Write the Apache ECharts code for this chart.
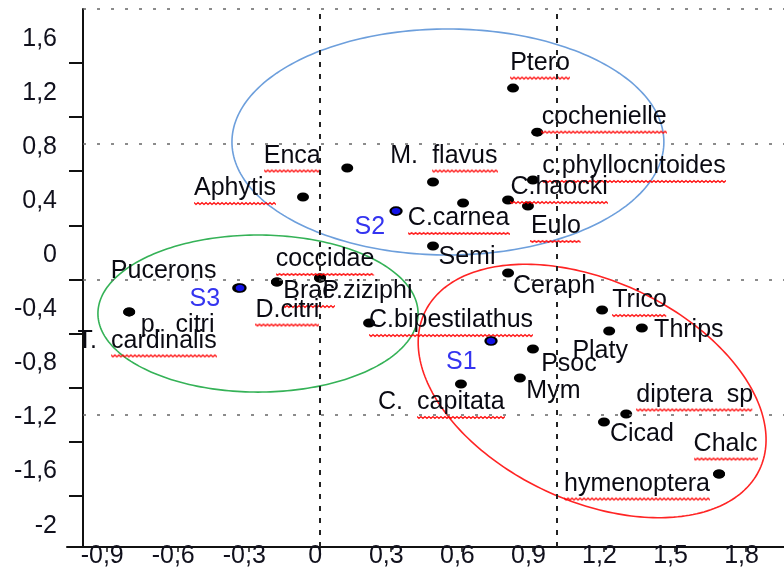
<!DOCTYPE html>
<html><head><meta charset="utf-8">
<script src="https://cdn.jsdelivr.net/npm/echarts@6/dist/echarts.min.js"></script>
<style>html,body{margin:0;padding:0;background:#fff}#c{width:784px;height:574px}</style>
</head><body><div id="c"></div>
<script>
// ---------- data ----------
const speciesNames = ['Ptero','cochenielle','Enca','M. flavus','Aphytis','c.phyllocnitoides','C.haocki','Eulo','C.carnea','Semi','Ceraph','P.ziziphi','coccidae','Brac','D.citri','Pucerons','p. citri','T. cardinalis','C.bipestilathus','Trico','Thrips','Platy','Psoc','Mym','C. capitata','diptera sp','Cicad','Chalc','hymenoptera'];
const speciesX = [0.816,0.918,0.116,0.478,-0.071,0.900,0.795,0.879,0.605,0.478,0.795,0.001,0.001,-0.181,-0.181,-0.345,-0.805,-0.805,0.208,1.192,1.360,1.222,0.900,0.845,0.596,1.294,1.200,1.686,1.686];
const speciesY = [1.215,0.889,0.624,0.520,0.409,0.535,0.387,0.343,0.365,0.047,-0.153,-0.190,-0.190,-0.220,-0.220,-0.264,-0.441,-0.441,-0.523,-0.427,-0.560,-0.582,-0.715,-0.930,-0.974,-1.196,-1.255,-1.640,-1.640];
const siteNames = ['S1','S2','S3'];
const siteX = [0.723, 0.322, -0.337];
const siteY = [-0.656, 0.305, -0.264];
const xTickLabels = [-0.9,-0.6,-0.3,0,0.3,0.6,0.9,1.2,1.5,1.8];
const yTickLabels = [1.6,1.2,0.8,0.4,0,-0.4,-0.8,-1.2,-1.6,-2];
const yTickMarks = [1.4,1.0,0.6,0.2,-0.2,-0.6,-1.0,-1.4,-1.8];
const gridLinesX = [0, 1];
const gridLinesY = [1.8, 0.8, -0.2, -1.2];
const ellipseCx = [1.150, 0.541, -0.261];
const ellipseCy = [-1.026, 0.816, -0.453];
const ellipseRx = [0.781, 0.912, 0.676];
const ellipseRy = [0.814, 0.836, 0.581];
const ellipseAngle = [25, 0, 0];

// ---------- layout / style ----------
const X_MIN = -1.0676, X_MAX = 1.9603, Y_MIN = -2.18, Y_MAX = 1.8, AXIS_X = -1.0;
const ellipseColors = ['#ff2424', '#6d9fdc', '#35b257'];
const FONT_FAMILY = '"Liberation Sans", Arial, sans-serif';
const FS = 25;
const DOT = [12, 9];
const labelOffsets = {
  'Ptero':[27,-25],'cochenielle':[67,-15],'Enca':[-55,-12],'M. flavus':[11,-26],'Aphytis':[-68,-8.5],
  'c.phyllocnitoides':[101,-13.5],'C.haocki':[51,-12.5],'Eulo':[28,20.5],'C.carnea':[-4.5,15.5],'Semi':[34,11],
  'Ceraph':[46,13.5],'P.ziziphi':[47.5,13.5],'coccidae':[5,-18.5],'Brac':[32,9.5],'D.citri':[10.5,28],
  'Pucerons':[-74.5,-17],'p. citri':[48.5,13.5],'T. cardinalis':[18,29],'C.bipestilathus':[82,-2.5],
  'Trico':[37.5,-9.5],'Thrips':[47,2.5],'Platy':[-9,20],'Psoc':[36,15.5],'Mym':[33.5,13.5],
  'C. capitata':[-19.5,18.5],'diptera sp':[68.5,-19],'Cicad':[38,12],'Chalc':[6.5,-30],'hymenoptera':[-82,10]
};
// [plain prefix, underlined part]
const squiggleParts = {
  'Ptero':['','Ptero'],'cochenielle':['','cochenielle'],'Enca':['','Enca'],'M. flavus':['M.  ','flavus'],
  'Aphytis':['','Aphytis'],'c.phyllocnitoides':['','c.phyllocnitoides'],'C.haocki':['','C.haocki'],
  'Eulo':['','Eulo'],'C.carnea':['','C.carnea'],'coccidae':['','coccidae'],'Brac':['','Brac'],
  'D.citri':['','D.citri'],'T. cardinalis':['T.  ','cardinalis'],'C.bipestilathus':['','C.bipestilathus'],
  'Trico':['','Trico'],'C. capitata':['C.  ','capitata'],'diptera sp':['','diptera  sp'],
  'Chalc':['','Chalc'],'hymenoptera':['','hymenoptera']
};
const displayText = {'p. citri':'p.  citri'};

const mctx = document.createElement('canvas').getContext('2d');
mctx.font = FS + 'px ' + FONT_FAMILY;
function squiggleCanvas(text){
  const w = Math.max(2, Math.ceil(mctx.measureText(text).width));
  const h = FS + 5;
  const c = document.createElement('canvas'); c.width = w; c.height = h;
  const g = c.getContext('2d');
  g.strokeStyle = '#ff0000'; g.lineWidth = 1.2;
  g.beginPath();
  for (let x = 0; x <= w; x += 2) {
    const y = (Math.floor(x / 2) % 2 === 0) ? FS + 1.5 : FS + 3.5;
    if (x === 0) g.moveTo(x, y); else g.lineTo(x, y);
  }
  g.stroke();
  return c;
}
const PAD = [0,0,5,0];
const fmtNum = v => String(Math.round(v * 10) / 10).replace('.', ',');

const speciesData = speciesNames.map((n, i) => {
  const off = labelOffsets[n] || [0, 0];
  const sp = squiggleParts[n];
  let formatter, rich = { n: { padding: PAD, lineHeight: FS } };
  if (sp) {
    formatter = (sp[0] ? '{n|' + sp[0] + '}' : '') + '{u|' + sp[1] + '}';
    rich.u = { padding: PAD, lineHeight: FS, backgroundColor: { image: squiggleCanvas(sp[1]) } };
  } else {
    formatter = '{n|' + (displayText[n] || n) + '}';
  }
  return { name: n, value: [speciesX[i], speciesY[i]],
    label: { position: [DOT[0] / 2 + off[0], DOT[1] / 2 + off[1] + 2.5], formatter: formatter, rich: rich } };
});

const SITE_DOT = [11, 8];
const siteOffsets = [[-28.5,21.5],[-25,16.5],[-34,12]];
const siteData = siteNames.map((n, i) => ({ name: n, value: [siteX[i], siteY[i]],
  label: { position: [SITE_DOT[0] / 2 + siteOffsets[i][0], SITE_DOT[1] / 2 + siteOffsets[i][1]] } }));

const chart = echarts.init(document.getElementById('c'), null, { renderer: 'canvas' });
chart.setOption({
  animation: false,
  backgroundColor: '#fff',
  grid: { left: 67, right: 0, top: 9, bottom: 27 },
  xAxis: {
    type: 'value', min: X_MIN, max: X_MAX,
    axisLine: { onZero: false, lineStyle: { color: '#111', width: 2 } },
    splitLine: { show: false },
    axisTick: { show: true, length: 5, customValues: xTickLabels, lineStyle: { color: '#111', width: 1.5 } },
    axisLabel: { customValues: xTickLabels, formatter: fmtNum, margin: -3, padding: [0, 9, 0, 0],
      fontSize: 25, color: '#10101c', fontFamily: FONT_FAMILY }
  },
  yAxis: {
    type: 'value', min: Y_MIN, max: Y_MAX, offset: -16,
    axisLine: { onZero: false, lineStyle: { color: '#111', width: 2 } },
    splitLine: { show: false },
    axisTick: { show: true, length: 14, customValues: yTickMarks, lineStyle: { color: '#111', width: 2 } },
    axisLabel: { customValues: yTickLabels, formatter: v => '{a|' + fmtNum(v) + '}', margin: 26,
      rich: { a: { padding: [6, 0, 0, 0], fontSize: 25, color: '#10101c', fontFamily: FONT_FAMILY } },
      fontSize: 25, color: '#10101c', fontFamily: FONT_FAMILY }
  },
  series: [
    {
      type: 'line', data: [], z: 1,
      markLine: {
        silent: true, symbol: 'none', label: { show: false },
        lineStyle: { color: '#666', type: [3, 11], width: 1.6 },
        data: [
          ...gridLinesX.map(v => ({ xAxis: v, lineStyle: { color: '#222', type: [5, 7], width: 2 } })),
          ...gridLinesY.map(v => [{ coord: [AXIS_X, v] }, { coord: [X_MAX, v] }])
        ]
      }
    },
    {
      type: 'custom', z: 2, silent: true, clip: false,
      data: ellipseCx.map((cx, i) => [cx, ellipseCy[i], ellipseRx[i], ellipseRy[i], ellipseAngle[i], i]),
      encode: { x: 0, y: 1 },
      renderItem: function (params, api) {
        const c = api.coord([api.value(0), api.value(1)]);
        const a = api.size([api.value(2), 0])[0];
        const b = api.size([0, api.value(3)])[1];
        const t = api.value(4) * Math.PI / 180;
        const pts = [];
        for (let k = 0; k <= 240; k++) {
          const th = k / 240 * 2 * Math.PI;
          const ex = a * Math.cos(th), ey = b * Math.sin(th);
          pts.push([c[0] + ex * Math.cos(t) - ey * Math.sin(t), c[1] + ex * Math.sin(t) + ey * Math.cos(t)]);
        }
        return { type: 'polyline', shape: { points: pts },
          style: { stroke: ellipseColors[api.value(5)], lineWidth: 1.6, fill: 'none' } };
      }
    },
    {
      type: 'scatter', z: 3, symbol: 'circle', symbolSize: DOT,
      itemStyle: { color: '#000', opacity: 1 },
      label: { show: true, align: 'center', verticalAlign: 'middle',
        fontSize: FS, color: '#0a0a12', fontFamily: FONT_FAMILY },
      labelLayout: { hideOverlap: false },
      data: speciesData
    },
    {
      type: 'scatter', z: 4, symbol: 'circle', symbolSize: SITE_DOT,
      itemStyle: { color: '#1212e6', borderColor: '#000', borderWidth: 2, opacity: 1 },
      label: { show: true, align: 'center', verticalAlign: 'middle',
        formatter: '{b}', fontSize: FS, color: '#3434f0', fontFamily: FONT_FAMILY },
      data: siteData
    }
  ]
});
</script></body></html>
